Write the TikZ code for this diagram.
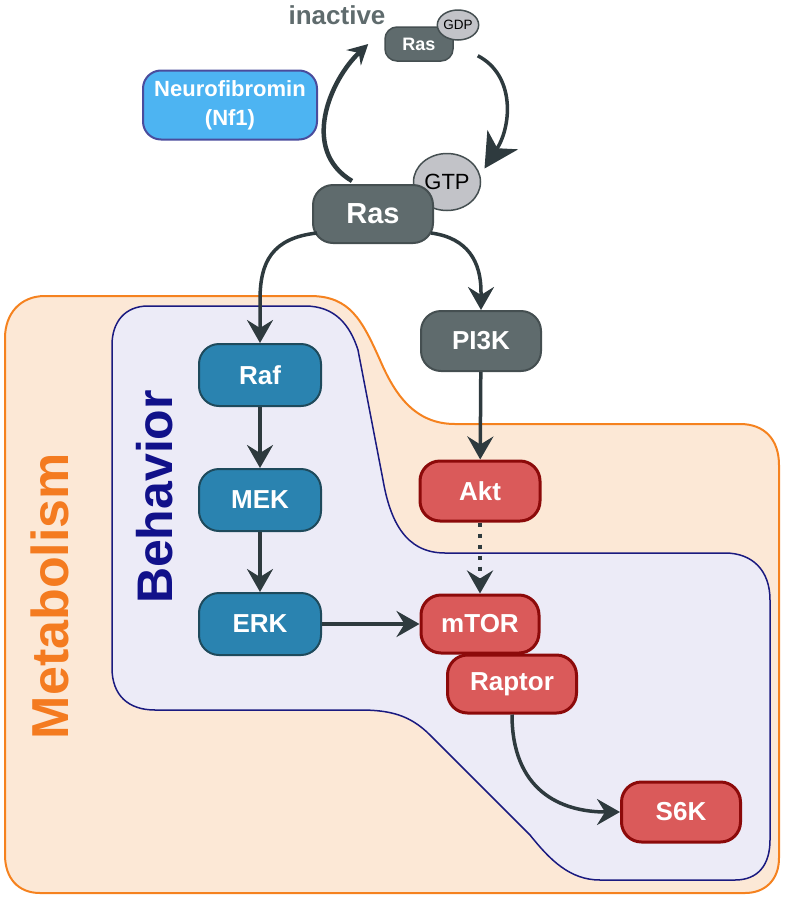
\documentclass[tikz,border=0pt]{standalone}
\usepackage{fontspec}
\setmainfont{Liberation Sans}
\usetikzlibrary{arrows.meta,shapes.geometric}

\definecolor{metafill}{HTML}{FCE8D6}
\definecolor{metaline}{HTML}{F5821F}
\definecolor{behfill}{HTML}{ECEBF7}
\definecolor{behline}{HTML}{1A1A80}
\definecolor{rasgray}{HTML}{5F6B6D}
\definecolor{rasline}{HTML}{454F51}
\definecolor{gtpgray}{HTML}{C2C3C8}
\definecolor{kinblue}{HTML}{2A83B0}
\definecolor{kinline}{HTML}{1E4A5C}
\definecolor{torred}{HTML}{DA5A5A}
\definecolor{torline}{HTML}{8C0A0A}
\definecolor{nfblue}{HTML}{4DB4F2}
\definecolor{nfline}{HTML}{4A4C9C}
\definecolor{arrowgray}{HTML}{2E3A3E}
\definecolor{metatext}{HTML}{F47B20}
\definecolor{behtext}{HTML}{11118A}

\begin{document}
\begin{tikzpicture}[x=1pt,y=-1pt,
    protbox/.style={rounded corners=20pt,minimum width=120pt,minimum height=60pt,
      inner sep=0pt,line width=2pt,text=white,font=\fontsize{26}{28}\selectfont\bfseries},
    graybox/.style={protbox,fill=rasgray,draw=rasline},
    bluebox/.style={protbox,fill=kinblue,draw=kinline},
    redbox/.style={protbox,fill=torred,draw=torline,line width=3pt},
    nucl/.style={ellipse,fill=gtpgray,draw=rasline,line width=1.5pt,inner sep=0pt},
    link/.style={draw=arrowgray,line width=3.5pt,-{Stealth[length=23pt,width=26pt,inset=8pt]}},
    cyc/.style={draw=arrowgray,line width=4.5pt}]
  \useasboundingbox (0,0) rectangle (786,900);
  % metabolism region
  \filldraw[fill=metafill,draw=metaline,line width=2pt]
    (5,338) .. controls (5,314) and (20,296) .. (45,296) -- (310,296)
    .. controls (350,296) and (362,320) .. (380,360)
    .. controls (395,395) and (415,424) .. (455,424) -- (740,424)
    .. controls (765,424) and (779,440) .. (779,465) -- (779,858)
    .. controls (779,880) and (765,893) .. (745,893) -- (40,893)
    .. controls (18,893) and (5,878) .. (5,855) -- cycle;
  % behavior region
  \filldraw[fill=behfill,draw=behline,line width=1.5pt]
    (112,345) .. controls (112,322) and (125,306) .. (148,306) -- (305,306)
    .. controls (335,306) and (350,325) .. (358,350) -- (383,480)
    .. controls (390,520) and (405,553) .. (445,553) -- (725,553)
    .. controls (752,553) and (770,570) .. (770,600) -- (770,840)
    .. controls (770,865) and (758,880) .. (735,880) -- (600,880)
    .. controls (570,880) and (550,860) .. (530,835) -- (430,735)
    .. controls (410,715) and (390,710) .. (360,710) -- (155,710)
    .. controls (128,710) and (112,695) .. (112,668) -- cycle;
  \node[rotate=90,text=metatext,font=\fontsize{52}{52}\selectfont\bfseries] (meta) at (50,596) {Metabolism};
  \node[rotate=90,text=behtext,font=\fontsize{50}{50}\selectfont\bfseries] (beh) at (155,497) {Behavior};
  % ras cycle
  \node[text=rasgray,font=\fontsize{26}{28}\selectfont\bfseries] (inact) at (337,15) {inactive};
  \node[graybox,minimum width=68pt,minimum height=34pt,rounded corners=12pt,line width=1.5pt,
    font=\fontsize{18}{18}\selectfont\bfseries] (rasI) at (419,44) {Ras};
  \node[nucl,minimum width=39pt,minimum height=30pt,font=\fontsize{13.5}{14}\selectfont] (gdp) at (458,25) {GDP};
  \node[nucl,minimum width=67pt,minimum height=57pt,font=\fontsize{22}{22}\selectfont] (gtp) at (447,182) {GTP};
  \node[graybox,minimum height=58pt,font=\fontsize{29}{30}\selectfont\bfseries] (ras) at (373,214) {Ras};
  \node[protbox,fill=nfblue,draw=nfline,minimum width=174pt,minimum height=69pt,rounded corners=18pt,
    align=center,font=\fontsize{22}{29}\selectfont\bfseries] (nf) at (230,105) {Neurofibromin\\(Nf1)};
  \draw[cyc,-{Stealth[length=20pt,width=21pt,inset=7pt]}] ([xshift=-21pt,yshift=3pt]ras.north)
    .. controls (300,150) and (330,80) .. ([xshift=-16pt]rasI.west);
  \draw[cyc,line width=3.5pt,-{Stealth[length=34pt,width=36pt,inset=10pt]}] ([xshift=24pt,yshift=6pt]rasI.south east)
    .. controls (515,75) and (512,125) .. ([xshift=6pt,yshift=2pt]gtp.20);
  % pathway nodes
  \foreach \name/\lab/\y in {raf/Raf/375, mek/MEK/500, erk/ERK/624}
    \node[bluebox,minimum width=122pt,minimum height=62pt] (\name) at (260,\y) {\lab};
  \node[graybox] (pi3k) at (481,341) {PI3K};
  \node[redbox] (akt) at (480,491) {Akt};
  \node[redbox,minimum width=118pt,minimum height=58pt] (mtor) at (480,624) {mTOR};
  \node[redbox,minimum width=129pt,minimum height=58pt] (raptor) at (512,684) {Raptor};
  \node[redbox,minimum width=119pt] (s6k) at (681,812) {S6K};
  % signalling arrows
  \draw[link] ([xshift=5pt,yshift=11pt]ras.south west) .. controls (272,238) and (260,262) .. (260,300) -- (raf.north);
  \draw[link] ([xshift=-3pt,yshift=11pt]ras.south east) .. controls (468,238) and (481,262) .. (481,292) -- (pi3k.north);
  \foreach \a/\b in {raf/mek, mek/erk, pi3k/akt}
    \draw[link] (\a) -- (\b);
  \draw[link] (erk.east) -- (mtor.west);
  \draw[link,line width=4pt,dash pattern=on 4pt off 7pt] (akt.south) -- (mtor.north);
  \draw[link] (raptor.south) .. controls (512,790) and (560,812) .. (s6k.west);
\end{tikzpicture}
\end{document}
